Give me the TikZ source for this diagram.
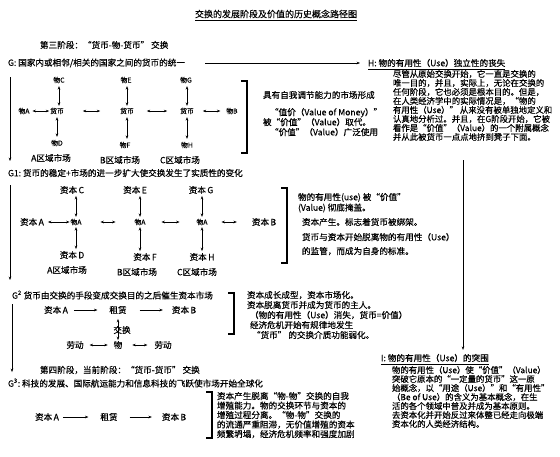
\documentclass[tikz,border=0pt]{standalone}
\usepackage{fontspec}
\newfontfamily\cjk{Noto Sans CJK SC}[FakeBold=0.35]
\usetikzlibrary{arrows.meta}
\begin{document}
\begin{tikzpicture}[x=1pt,y=-1pt,
 every node/.style={inner sep=0pt,outer sep=0pt,font=\cjk\fontsize{8.6}{9}\selectfont},
 sm/.style={font=\cjk\fontsize{6.8}{8}\selectfont},
 lab/.style={anchor=west},
 para/.style={anchor=north west,align=left},
 arr/.style={-{Stealth[length=3.4pt,width=2.6pt]},line width=0.5pt},
 darr/.style={{Stealth[length=3.4pt,width=2.6pt]}-{Stealth[length=3.4pt,width=2.6pt]},line width=0.5pt},
 brk/.style={line width=1.3pt},
 uline/.style={line width=0.5pt}]
\fill[white] (0,0) rectangle (560,456);
\useasboundingbox (0,0) rectangle (560,456);

% title
\node (title) at (276,14) {\fontsize{9}{10}\selectfont 交换的发展阶段及价值的历史概念路径图};
\draw[uline] ([yshift=-2pt]title.south west) -- ([yshift=-2pt]title.south east);

\node[lab] (s3) at (40,45) {第三阶段：“货币-物-货币”\ 交换};
\node[lab] (G) at (8,63) {G:\ 国家内或相邻/相关的国家之间的货币的统一};
\node[lab] (H) at (368,63) {H:\ 物的有用性（Use）独立性的丧失};
\draw[uline] ([yshift=-2pt]H.south west) -- ([yshift=-2pt]H.south east);
\draw[arr,shorten <=20pt,shorten >=8pt] (G.east) -- (H.west);

\node[para,font=\cjk\fontsize{8.4}{9}\selectfont] (Ht) at (393,70) {尽管从原始交换开始，它一直是交换的\\唯一目的，并且，实际上，无论在交换的\\任何阶段，它也必须是根本目的。但是，\\在人类经济学中的实际情况是，“物的\\有用性（Use）”\ 从来没有被单独地定义和\\认真地分析过。并且，在G阶段开始，它被\\看作是“价值”（Value）的一个附属概念\\并从此被货币一点点地挤到凳子下面。};

\coordinate (hv) at (463,160);
\node[lab] (I) at (381,358) {I:\ 物的有用性（Use）的突围};
\draw[uline] ([yshift=-2pt]I.south west) -- ([yshift=-2pt]I.south east);
\draw[arr,shorten >=4pt] (hv) -- (hv |- I.north);
\node[para,font=\cjk\fontsize{8.4}{9}\selectfont] (It) at (392,366) {物的有用性（Use）使“价值”（Value）\\突破它原本的“一定量的货币”这一原\\始概念，以“用途（Use）”和“有用性”\\（Be of Use）的含义为基本概念，在生\\活的各个领域中普及并成为基本原则。\\去资本化并开始反过来体整已经走向极端\\资本化的人类经济结构。};

% ---------- G grid
\coordinate (La) at (10,77); \coordinate (Lb) at (10,161);
\draw[arr] (La) -- (Lb);
\node[sm] (gC) at (59,80) {物C};
\node[sm] (gA) at (24,111) {物A};
\node[sm] (gM1) at (57,111) {货币};
\node[sm] (gD) at (57,143) {物D};
\node[sm] (gE) at (126,80) {物E};
\node[sm] (gM2) at (127,111) {货币};
\node[sm] (gF) at (125,145) {物F};
\node[sm] (gG) at (186,80) {物G};
\node[sm] (gM3) at (187,111) {货币};
\node[sm] (gH) at (187,145) {物H};
\node[sm] (gB) at (232,111) {物B};
\draw[darr,shorten <=3pt,shorten >=1pt] (gA) -- (gM1);
\draw[darr,shorten <=19pt,shorten >=20pt] (gM1) -- (gM2);
\draw[darr,shorten <=13pt,shorten >=13pt] (gM2) -- (gM3);
\draw[darr,shorten <=9pt,shorten >=6pt] (gM3) -- (gB);
\draw[darr,shorten <=3pt,shorten >=2pt] (gC.south) -- (gC.south |- gM1.north);
\draw[darr,shorten <=3pt,shorten >=3pt] (gM1.south) -- (gM1.south |- gD.north);
\draw[darr,shorten <=3pt,shorten >=2pt] (gM2.north |- gE.south) -- (gM2.north);
\draw[darr,shorten <=3pt,shorten >=3pt] (gM2.south) -- (gM2.south |- gF.north);
\draw[darr,shorten <=3pt,shorten >=2pt] (gM3.north |- gG.south) -- (gM3.north);
\draw[darr,shorten <=3pt,shorten >=3pt] (gM3.south) -- (gM3.south |- gH.north);
\node (rA) at (51,158) {A区域市场};
\node (rB) at (120,160) {B区域市场};
\node (rC) at (180,160) {C区域市场};
\draw[brk] (241,81) -- (247,81) -- (247,153) -- (241,153);
\node[para] (gt1) at (263,91) {具有自我调节能力的市场形成};
\node[para,font=\cjk\fontsize{8.6}{10}\selectfont] (gt2) at (263,108) {\hspace*{7pt}“值价（Value of Money）”\\被“价值”（Value）取代。\\\hspace*{7pt}“价值”（Value）广泛使用};

% ---------- G1 grid
\node[lab] (G1) at (8,173) {G1:\ 货币的稳定+市场的进一步扩大使交换发生了实质性的变化};
\coordinate (Lc) at (10,185); \coordinate (Ld) at (10,280);
\draw[arr] (Lc) -- (Ld);
\node (kC) at (72,190) {资本\,C};
\node (kE) at (135,190) {资本\,E};
\node (kG) at (201,190) {资本\,G};
\node (kA) at (32,222) {资本\,A};
\node[sm] (w1) at (76,222) {物A};
\node[sm] (w2) at (140,222) {物A};
\node[sm] (w3) at (202,222) {物A};
\node (kB) at (264,222) {资本\,B};
\node (kD) at (72,255) {资本\,D};
\node (kF) at (145,257) {资本\,F};
\node (kH) at (202,257) {资本\,H};
\node (rA1) at (67,270) {A区域市场};
\node (rB1) at (137,272) {B区域市场};
\node (rC1) at (197,272) {C区域市场};
\draw[darr,shorten <=4pt,shorten >=1pt] (kA) -- (w1);
\draw[darr,shorten <=19pt,shorten >=19pt] (w1) -- (w2);
\draw[darr,shorten <=16pt,shorten >=17pt] (w2) -- (w3);
\draw[darr,shorten <=14pt,shorten >=15pt] (w3) -- (kB);
\draw[darr,shorten <=2pt,shorten >=2pt] (w1.north |- kC.south) -- (w1.north);
\draw[darr,shorten <=2pt,shorten >=2pt] (w1.south) -- (w1.south |- kD.north);
\draw[darr,shorten <=2pt,shorten >=2pt] (w2.north |- kE.south) -- (w2.north);
\draw[darr,shorten <=2pt,shorten >=2pt] (w2.south) -- (w2.south |- kF.north);
\draw[darr,shorten <=2pt,shorten >=2pt] (w3.north |- kG.south) -- (w3.north);
\draw[darr,shorten <=2pt,shorten >=2pt] (w3.south) -- (w3.south |- kH.north);
\draw[brk] (281,188) -- (287,188) -- (287,263) -- (281,263);
\node[para,font=\cjk\fontsize{8.6}{10.5}\selectfont] (k1) at (298,193) {物的有用性(use)\ 被“价值”\\(Value)\ 彻底掩盖。};
\node[para] (k2) at (302,218) {资本产生。标志着货币被绑架。};
\node[para,font=\cjk\fontsize{8.6}{14}\selectfont] (k3) at (302,233) {货币与资本开始脱离物的有用性（Use）\\的监管，而成为自身的标准。};

% ---------- G2
\node[lab] (G2) at (12,295) {G\textsuperscript{2}\ 货币由交换的手段变成交换目的之后催生资本市场};
\coordinate (Le) at (12,304); \coordinate (Lf) at (12,372);
\draw[arr] (Le) -- (Lf);
\node (zA) at (56,310) {资本\,A};
\node (zl) at (118,310) {租赁};
\node (zB) at (184,310) {资本\,B};
\node (zx) at (122,330) {交换};
\node (l1) at (75,345) {劳动};
\node (wu) at (118,345) {物};
\node (l2) at (163,345) {劳动};
\draw[arr,shorten <=6pt,shorten >=12pt] (zA) -- (zl);
\draw[arr,shorten <=13pt,shorten >=9pt] (zl) -- (zB);
\draw[darr,shorten <=5pt,shorten >=1pt] (zl.south) -- (wu.north);
\draw[darr,shorten <=6pt,shorten >=6pt] (l1) -- (wu);
\draw[darr,shorten <=10pt,shorten >=7pt] (wu) -- (l2);
\draw[brk] (228,293) -- (234,293) -- (234,334) -- (228,334);
\node[para,font=\cjk\fontsize{8.6}{10}\selectfont] (z1) at (247,291) {资本成长成型，资本市场化。\\资本脱离货币并成为货币的主人。\\\hspace*{3pt}（物的有用性（Use）消失，货币=价值）\\\hspace*{3pt}经济危机开始有规律地发生\\\hspace*{5pt}“货币”\ 的交换介质功能弱化。};

% ---------- G3
\node[lab] (s4) at (40,370) {第四阶段，当前阶段：“货币-货币”\ 交换};
\node[lab] (G3) at (8,383) {G\textsuperscript{3}:\ 科技的发展、国际航运能力和信息科技的飞跃使市场开始全球化};
\node (yA) at (47,417) {资本\,A};
\node (yl) at (109,417) {租赁};
\node (yB) at (174,417) {资本\,B};
\draw[arr,shorten <=4pt,shorten >=12pt] (yA) -- (yl);
\draw[arr,shorten <=12pt,shorten >=10pt] (yl) -- (yB);
\draw[brk] (206,392) -- (212,392) -- (212,438) -- (206,438);
\node[para,font=\cjk\fontsize{8.6}{9.5}\selectfont] (y1) at (217,392) {资本产生脱离“物-物”交换的自我\\增殖能力。物的交换环节与资本的\\增殖过程分离。“物-物”交换的\\的流通严重阻滞，无价值增殖的资本\\频繁坍塌，经济危机频率和强度加剧};
\end{tikzpicture}
\end{document}
